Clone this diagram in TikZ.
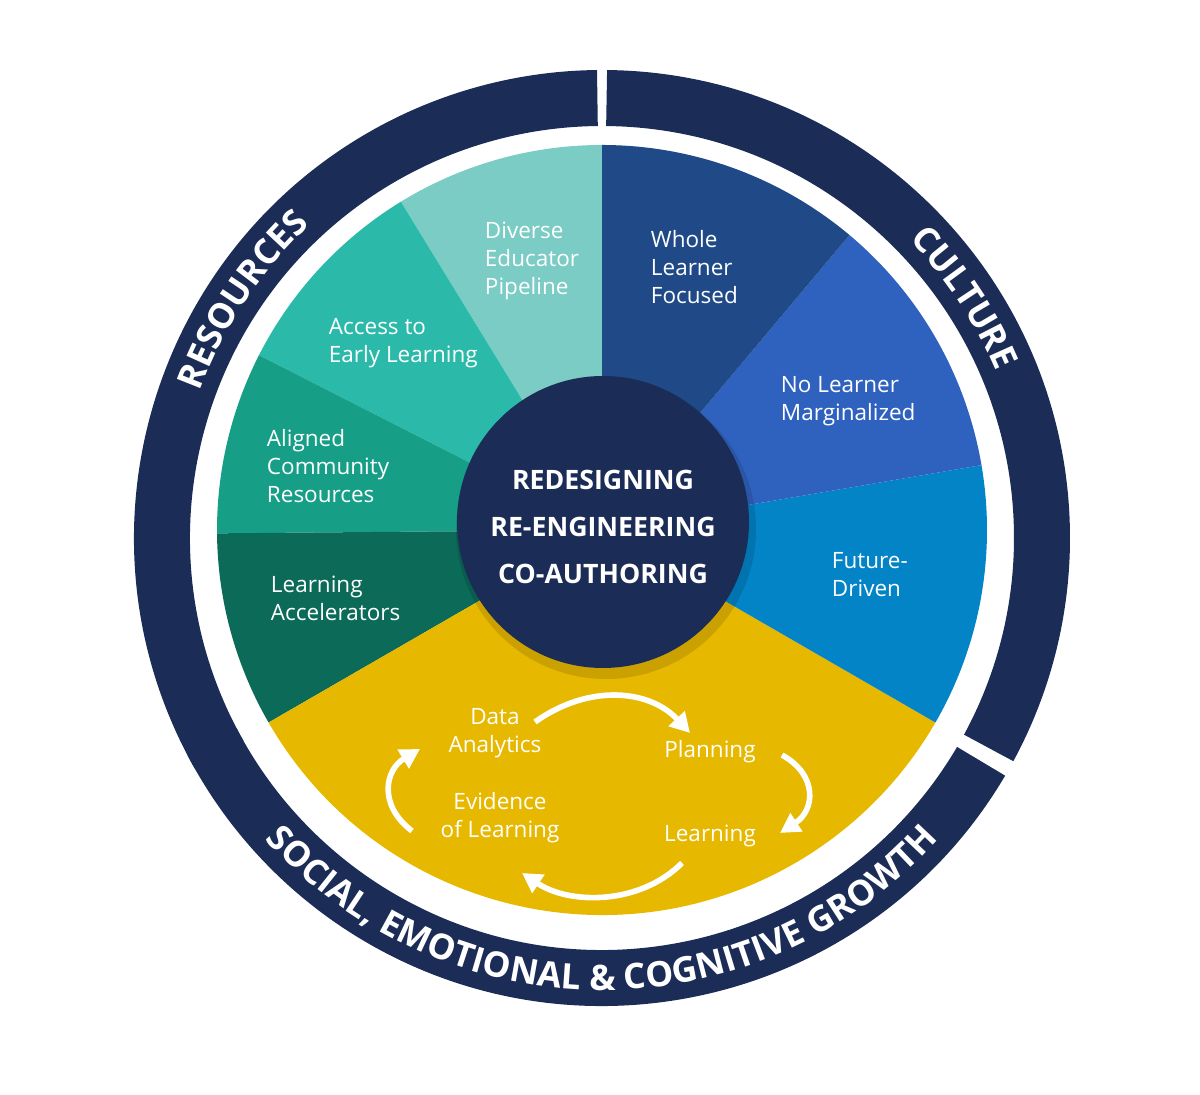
\documentclass[tikz,border=0pt]{standalone}
\usepackage{fontspec}
\setmainfont{Open Sans}
\usetikzlibrary{arrows.meta, decorations.text}

\definecolor{navy}{HTML}{1B2D57}
\definecolor{cDiverse}{HTML}{7ACCC4}
\definecolor{cAccess}{HTML}{2BBAAA}
\definecolor{cAligned}{HTML}{179E87}
\definecolor{cAccel}{HTML}{0B6B58}
\definecolor{cGold}{HTML}{E6B800}
\definecolor{cFuture}{HTML}{0284C7}
\definecolor{cNoLearner}{HTML}{2F62BF}
\definecolor{cWhole}{HTML}{1F4A87}

\begin{document}
\begin{tikzpicture}[
    x=0.025cm, y=0.025cm,
    label/.style={align=left, anchor=west, text=white, font=\fontsize{16}{20}\selectfont},
    core/.style={text=white, font=\bfseries\fontsize{19}{22}\selectfont},
    cycle/.style={text=white, align=center, font=\fontsize{16}{20}\selectfont},
    cyc/.style={-{Triangle[length=14pt, width=15pt]}, white, line width=4pt},
    ring/.style={navy, line width=56*0.025cm}
]
\useasboundingbox (0,0) rectangle (1200,1095);

% Outer ring
\draw[ring] (602,557) ++(209.5:440) arc (209.5:90.6:440);
\draw[ring] (602,557) ++(89.4:440) arc (89.4:-28.5:440);
\draw[ring] (602,557) ++(-30.5:440) arc (-30.5:-152.5:440);

% Ring texts
\path[decorate, decoration={text along path, text align=center,
    text={|\bfseries\fontsize{25}{25}\selectfont\color{white}|RESOURCES}}]
    (602,557) ++(190:428) arc (190:103:428);
\path[decorate, decoration={text along path, text align=center,
    text={|\bfseries\fontsize{25}{25}\selectfont\color{white}|CULTURE}}]
    (602,557) ++(75:428) arc (75:-8:428);
\path[decorate, decoration={text along path, text align=center,
    text={|\bfseries\fontsize{25}{25}\selectfont\color{white}|SOCIAL{,} EMOTIONAL {\&} COGNITIVE GROWTH}}]
    (602,557) ++(198:452) arc (198:342:452);

% Pie slices
\foreach \a/\b/\c in {90/121.5/cDiverse, 121.5/153/cAccess, 153/180.5/cAligned,
    180.5/210/cAccel, 210/330/cGold, -30/9.7/cFuture, 9.7/50/cNoLearner, 50/90/cWhole}
  \fill[\c] (602,565) -- ++(\a:385) arc (\a:\b:385) -- cycle;

% Centre circle
\fill[black, opacity=0.12] (606,566) circle (150);
\node[circle, fill=navy, minimum size=292*0.025cm, inner sep=0] (hub) at (603,573) {};
\node[core] (redesign) at (603,615) {REDESIGNING};
\node[core] (reeng) at (603,568) {RE-ENGINEERING};
\node[core] (coauth) at (603,521) {CO-AUTHORING};

% Slice labels
\node[label] (diverse) at (480,834) {Diverse\\Educator\\Pipeline};
\node[label] (whole) at (646,828) {Whole\\Learner\\Focused};
\node[label] (access) at (324,752) {Access to\\Early Learning};
\node[label] (nolearner) at (776,694) {No Learner\\Marginalized};
\node[label] (aligned) at (262,629) {Aligned\\Community\\Resources};
\node[label] (future) at (827,520) {Future-\\Driven};
\node[label] (accel) at (266,497) {Learning\\Accelerators};

% Cycle
\node[cycle] (data) at (495,362) {Data\\Analytics};
\node[cycle] (plan) at (710,343) {Planning};
\node[cycle] (learn) at (710,259) {Learning};
\node[cycle] (evid) at (500,277) {Evidence\\of Learning};
\draw[cyc] (535,373) .. controls (590,412) and (650,405) .. (690,362);
\draw[cyc] (782,340) .. controls (818,320) and (815,285) .. (780,262);
\draw[cyc] (682,232) .. controls (640,190) and (570,190) .. (522,222);
\draw[cyc] (412,264) .. controls (378,290) and (385,325) .. (420,346);
\end{tikzpicture}
\end{document}
